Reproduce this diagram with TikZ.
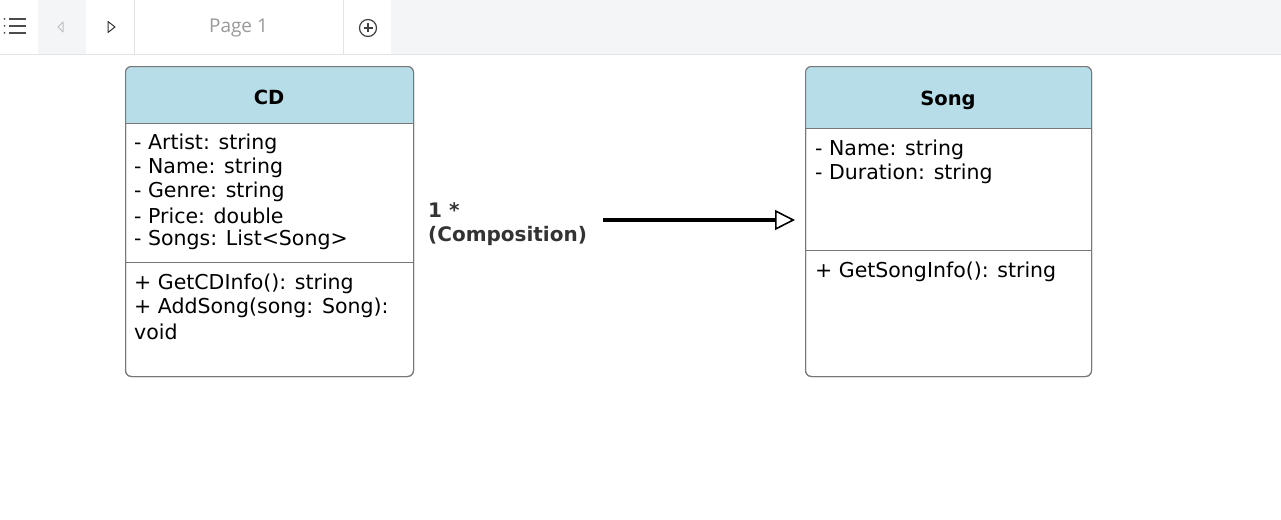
\documentclass[tikz,border=0pt]{standalone}
\usepackage{fontspec}
\setmainfont{DejaVu Sans}
\newfontfamily\uifont{Open Sans}
\usetikzlibrary{arrows.meta}
\definecolor{hdr}{HTML}{B7DDE8}
\definecolor{bord}{HTML}{777777}
\definecolor{bar}{HTML}{F4F5F7}
\definecolor{barline}{HTML}{E2E3E5}
\definecolor{lbl}{HTML}{333333}
\tikzset{
  umlbox/.style={draw=bord, line width=1pt, rounded corners=6pt, inner sep=0pt, anchor=north west},
  member/.style={anchor=west, inner sep=0pt, font=\fontsize{20.5}{24}\selectfont},
  title/.style={inner sep=0pt, font=\fontsize{19.5}{24}\selectfont\bfseries},
  sep/.style={draw=bord, line width=1pt},
  rel/.style={line width=3.2pt, -{Triangle[open, length=20pt, width=20pt, line width=1.6pt]}},
  relabel/.style={anchor=west, inner sep=0pt, text=lbl, font=\fontsize{20}{24}\selectfont\bfseries},
}
\begin{document}
\begin{tikzpicture}[x=1pt,y=-1pt]
\useasboundingbox (0,0) rectangle (1281,519);
% top bar
\fill[bar] (0,0) rectangle (1281,54);
\fill[white] (0,0) rectangle (38,54);
\fill[white] (86,0) rectangle (343,54);
\fill[white] (343,0) rectangle (391,54);
\draw[barline, line width=1pt] (0,54.5) -- (1281,54.5);
\draw[barline, line width=1pt] (134.5,0) -- (134.5,54);
\draw[barline, line width=1pt] (343.5,0) -- (343.5,54);
% menu icon
\foreach \yy in {19,26,33}{
  \fill[black!70] (4.5,\yy) circle (1pt);
  \draw[black!70, line width=1.4pt] (9,\yy) -- (25.5,\yy);
}
% arrows
\draw[black!25, line width=1pt, line join=round] (63,22) -- (58,27) -- (63,32) -- cycle;
\draw[black!80, line width=1pt, line join=round] (108,21.5) -- (115,27) -- (108,32.5) -- cycle;
\node[text=black!40, font=\uifont\fontsize{19}{20}\selectfont, inner sep=0pt] (page) at (238.5,28.5) {Page 1};
\draw[black!75, line width=1.2pt] (368,28) circle (8.5pt);
\draw[black!75, line width=1.2pt] (363.5,28) -- (372.5,28) (368,23.5) -- (368,32.5);

% CD class
\node[umlbox, minimum width=288pt, minimum height=310pt] (cd) at (125,66) {};
\begin{scope}
\clip[rounded corners=6pt] (125,66) rectangle (413,376);
\fill[hdr] (125,66) rectangle (413,123);
\end{scope}
\node[umlbox, minimum width=288pt, minimum height=310pt] at (125,66) {};
\draw[sep] (cd.west |- 0,123) -- (cd.east |- 0,123);
\draw[sep] (cd.west |- 0,262) -- (cd.east |- 0,262);
\node[title] (cdt) at (269,97) {CD};
\node[member] (cda1) at (134,143.5) {- Artist: string};
\node[member] (cda2) at (134,167.5) {- Name: string};
\node[member] (cda3) at (134,191.5) {- Genre: string};
\node[member] (cda4) at (134,215.5) {- Price: double};
\node[member] (cda5) at (134,239.5) {- Songs: List<Song>};
\node[member] (cdm1) at (134,283.5) {+ GetCDInfo(): string};
\node[member] (cdm2) at (134,307.5) {+ AddSong(song: Song):};
\node[member] (cdm3) at (134,331.5) {void};

% Song class
\node[umlbox, minimum width=286pt, minimum height=310pt] (song) at (805,66) {};
\begin{scope}
\clip[rounded corners=6pt] (805,66) rectangle (1091,376);
\fill[hdr] (805,66) rectangle (1091,128);
\end{scope}
\node[umlbox, minimum width=286pt, minimum height=310pt] at (805,66) {};
\draw[sep] (song.west |- 0,128) -- (song.east |- 0,128);
\draw[sep] (song.west |- 0,250) -- (song.east |- 0,250);
\node[title] (songt) at (948,100) {Song};
\node[member] (sa1) at (815,149.5) {- Name: string};
\node[member] (sa2) at (815,173.5) {- Duration: string};
\node[member] (sm1) at (815,271.5) {+ GetSongInfo(): string};

% relation
\coordinate (r1) at (603,220);
\coordinate (r2) at (795,220);
\draw[rel] (r1) -- (r2);
\node[relabel] (l1) at (428,210.5) {1 *};
\node[relabel] (l2) at (428,235.5) {(Composition)};
\end{tikzpicture}
\end{document}
